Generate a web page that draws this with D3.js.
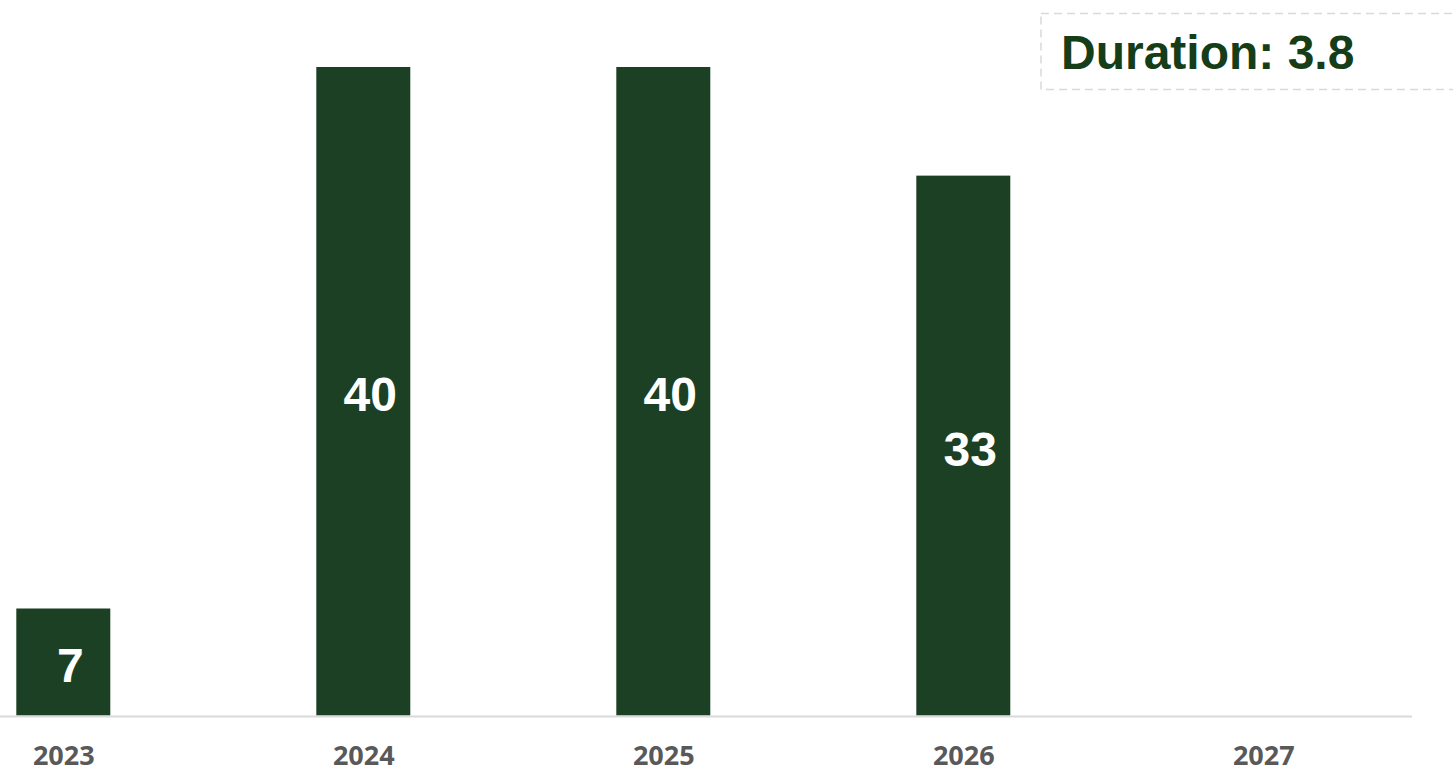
<!DOCTYPE html>
<html>
<head>
<meta charset="utf-8">
<script src="https://cdn.jsdelivr.net/npm/d3@7"></script>
<style>
  html, body { margin: 0; padding: 0; background: #ffffff; overflow: hidden; }
  svg { display: block; }
</style>
</head>
<body>
<svg id="chart" width="1453" height="771"></svg>
<script>
const years = ["2023", "2024", "2025", "2026", "2027"];
const values = [6.6, 40, 40, 33.3, null];
const valueLabels = ["7", "40", "40", "33", ""];
const durationText = "Duration: 3.8";

const svg = d3.select("#chart");
const barColor = "#1b4023";
const textGreen = "#143d18";

const x = d3.scalePoint().domain(years).range([-86.7, 1413.3]).padding(0.5);
const barW = x.step() * 0.3133;
const y = d3.scaleLinear().domain([0, 40]).range([715.5, 67]);

const data = years.map((yr, i) => ({ year: yr, value: values[i], label: valueLabels[i] }));

// bars
svg.append("g").selectAll("rect")
  .data(data.filter(d => d.value != null))
  .join("rect")
  .attr("x", d => x(d.year) - barW / 2)
  .attr("width", barW)
  .attr("y", d => y(d.value))
  .attr("height", d => y(0) - y(d.value))
  .attr("fill", barColor);

// value labels
svg.append("g").selectAll("text")
  .data(data.filter(d => d.value != null))
  .join("text")
  .attr("x", d => x(d.year) + 7)
  .attr("y", d => (y(d.value) + y(0)) / 2 + 20)
  .attr("text-anchor", "middle")
  .attr("fill", "#ffffff")
  .attr("font-family", "'Liberation Sans', Arial, sans-serif")
  .attr("font-weight", "bold")
  .attr("font-size", 48)
  .text(d => d.label);

// x axis
const xAxis = d3.axisBottom(x).tickSize(0).tickPadding(0);
const gx = svg.append("g").attr("transform", `translate(0, ${y(0) + 1})`).call(xAxis);
gx.select(".domain").attr("d", "M0,0H1412").attr("stroke", "#d9d9d9").attr("stroke-width", 2);
gx.selectAll(".tick text")
  .attr("dy", 0)
  .attr("y", 48)
  .attr("fill", "#595959")
  .attr("font-family", "'Open Sans', sans-serif")
  .attr("font-weight", "bold")
  .attr("font-size", 27);

// duration box
svg.append("rect")
  .attr("x", 1041)
  .attr("y", 13.5)
  .attr("width", 430)
  .attr("height", 76)
  .attr("fill", "none")
  .attr("stroke", "#d9d9d9")
  .attr("stroke-width", 1.5)
  .attr("stroke-dasharray", "8,5");

svg.append("text")
  .attr("x", 1061)
  .attr("y", 69)
  .attr("fill", textGreen)
  .attr("font-family", "'Liberation Sans', Arial, sans-serif")
  .attr("font-weight", "bold")
  .attr("font-size", 48)
  .text(durationText);
</script>
</body>
</html>
